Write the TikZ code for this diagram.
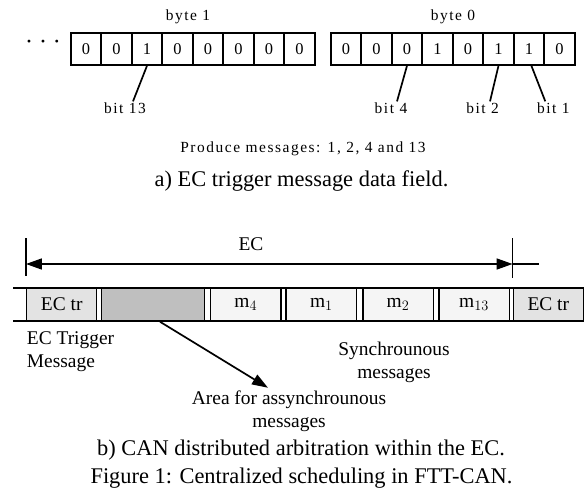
\documentclass[tikz,border=0pt]{standalone}
\usepackage{fontspec}
\setmainfont{Liberation Serif}
\newfontfamily\spacedfont[LetterSpace=10]{Liberation Serif}
\usetikzlibrary{arrows.meta,calc}

\tikzset{
	bitcell/.style={draw, line width=1.8bp, minimum width=30.5bp, minimum height=32bp, inner sep=0pt,
		font=\spacedfont\fontsize{16.5}{18}\selectfont},
	smalltext/.style={inner sep=1bp, font=\spacedfont\fontsize{15.5}{18}\selectfont},
	midtext/.style={inner sep=0pt, font=\fontsize{19.5}{23.3}\selectfont},
	captiontext/.style={inner sep=0pt, font=\fontsize{22.5}{27}\selectfont},
	slot/.style={draw, line width=1.5bp, minimum height=33bp, inner sep=0pt,
		font=\fontsize{19.5}{23.3}\selectfont},
	leader/.style={line width=1.7bp},
	busline/.style={line width=1.8bp},
	pointer/.style={line width=1.7bp, -{Triangle[length=16bp,width=11bp]}},
}

\begin{document}
\begin{tikzpicture}[x=1bp,y=-1bp]
	\useasboundingbox (0,0) rectangle (585,493);
	
	\def\lefthi{70.7} % left edge of byte 1
	\def\leftlo{330.7} % left edge of byte 0
	\def\cellw{30.5} % width of one bit
	
	% byte 1
	\foreach \v [count=\i from 0] in {0,0,1,0,0,0,0,0}
		\node[bitcell] (b1c\i) at ({\lefthi+\cellw/2+\cellw*\i},49) {\v};
	% byte 0
	\foreach \v [count=\i from 0] in {0,0,0,1,0,1,1,0}
		\node[bitcell] (b0c\i) at ({\leftlo+\cellw/2+\cellw*\i},49) {\v};
	
	\node[smalltext] (byteone) at (188,17) {byte 1};
	\node[smalltext] (bytezero) at (453,17) {byte 0};
	\node[inner sep=0pt, font=\fontsize{24}{24}\selectfont] (dots) at (43,45) {· · ·};
	
	% bits that are set
	\node[smalltext] (bitthirteen) at (125,108) {bit 13};
	\node[smalltext] (bitfour) at (391,108) {bit 4};
	\node[smalltext] (bittwo) at (482.5,108) {bit 2};
	\node[smalltext] (bitone) at (553.3,108) {bit 1};
	\draw[leader] (b1c2.south) -- ([xshift=8bp]bitthirteen.north);
	\draw[leader] (b0c2.south) -- ([xshift=6bp]bitfour.north);
	\draw[leader] (b0c5.south) -- ([xshift=7.5bp]bittwo.north);
	\draw[leader] ([xshift=2.5bp]b0c6.south) -- ([xshift=-8bp]bitone.north);
	
	\node[smalltext] (produce) at (303,149) {Produce messages: 1, 2, 4 and 13};
	\node[captiontext] (capa) at (301.5,181) {a) EC trigger message data field.};
	
	% elementary cycle on the bus
	\def\busy{304.5} % middle of the bus
	\node[slot, fill=black!11, minimum width=70bp] (trfirst) at (61.7,\busy) {EC tr};
	\node[slot, fill=black!25, minimum width=102.6bp] (async) at (153,\busy) {};
	\foreach \name/\cx/\k in {mfour/245.8/4, mone/321.4/1, mtwo/398/2, mthirteen/474/13}
		\node[slot, fill=black!4, minimum width=70.5bp] (\name) at (\cx,\busy) {$\mathrm{m}_{\k}$};
	\node[slot, fill=black!11, minimum width=70bp] (trsecond) at (548.3,\busy) {EC tr};
	\draw[busline] (13,288) -- (583,288);
	\draw[busline] (13,321) -- (583,321);
	
	% EC span
	\coordinate (ecleft) at (trfirst.west |- 0,264);
	\coordinate (ecright) at (trsecond.west |- 0,264);
	\draw[busline] ([yshift=26bp]ecleft) -- ([yshift=-12bp]ecleft);
	\draw[busline] ([yshift=26bp]ecright) -- ([yshift=-14bp]ecright);
	\draw[line width=1.7bp, {Triangle[length=16bp,width=11bp]}-{Triangle[length=16bp,width=11bp]}]
		(ecleft) -- (ecright);
	\draw[line width=1.7bp] (ecright) -- ([xshift=26bp]ecright);
	\node[midtext] (eclabel) at (251,244) {EC};
	
	% labels under the bus
	\node[midtext, anchor=west, align=left] (trigger) at (26.7,351.7) {EC Trigger\\Message};
	\node[midtext, align=center] (sync) at (394,362.5) {Synchrounous\\messages};
	\node[midtext, align=center] (area) at (289,411.5) {Area for assynchrounous\\messages};
	\draw[pointer] ([xshift=7bp]async.south) -- ([xshift=-21bp,yshift=3bp]area.north);
	
	\node[captiontext] (capb) at (301,450) {b) CAN distributed arbitration within the EC.};
	\node[captiontext] (figcap) at (301.5,478) {Figure 1: Centralized scheduling in FTT-CAN.};
\end{tikzpicture}
\end{document}
